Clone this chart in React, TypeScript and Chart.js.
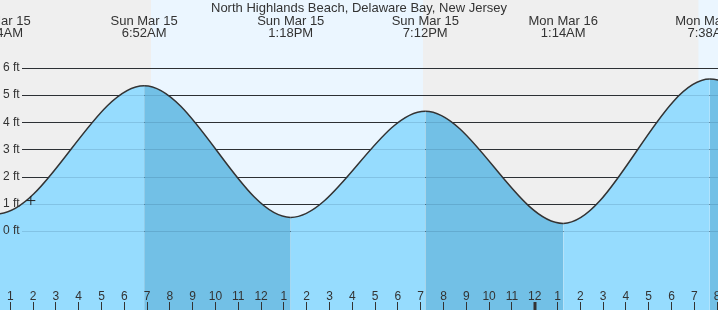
import React, { useEffect, useRef } from "react";
import { Chart, registerables } from "chart.js";

Chart.register(...registerables);

// ---- data (hours measured from Sun Mar 15 00:00) ----
const tideTimes = [-5.8, 0.42, 6.87, 13.3, 19.2, 25.25, 31.68, 38.0];
const tideHeights = [4.5, 0.63, 5.35, 0.5, 4.41, 0.28, 5.59, 0.6];

const extremeTimes = [0.42, 6.87, 13.3, 19.2, 25.25, 31.68];
const extremeDayLabels = ["Sun Mar 15", "Sun Mar 15", "Sun Mar 15", "Sun Mar 15", "Mon Mar 16", "Mon Mar 16"];
const extremeTimeLabels = ["12:44AM", "6:52AM", "1:18PM", "7:12PM", "1:14AM", "7:38AM"];

const daylightStarts = [7.17, 31.18];
const daylightEnds = [19.1, 43.1];

const feetTicks = [0, 1, 2, 3, 4, 5, 6];
const feetLabels = ["0 ft", "1 ft", "2 ft", "3 ft", "4 ft", "5 ft", "6 ft"];

const hourTicks = [
  1, 2, 3, 4, 5, 6, 7, 8, 9, 10, 11, 12, 13, 14, 15, 16, 17, 18, 19, 20, 21, 22, 23, 24,
  25, 26, 27, 28, 29, 30, 31, 32,
];
const hourLabels = [
  "1", "2", "3", "4", "5", "6", "7", "8", "9", "10", "11", "12",
  "1", "2", "3", "4", "5", "6", "7", "8", "9", "10", "11", "12",
  "1", "2", "3", "4", "5", "6", "7", "8",
];
const midnightHours = [24];

const nowTime = [1.9];
const nowHeight = [1.12];

const title = "North Highlands Beach, Delaware Bay, New Jersey";

// ---- styles ----
const NIGHT = "#efefef";
const DAY = "#ebf6ff";
const WATER_RISE = "#96dcfe";
const WATER_FALL = "#72c0e6";
const INK = "#333333";
const FONT = "Liberation Sans, Arial, sans-serif";

const decorPlugin = {
  id: "tideDecor",
  beforeDatasetsDraw(chart: any) {
    const { ctx, width, height } = chart;
    const x = chart.scales.x;
    const y = chart.scales.y;
    ctx.save();
    ctx.fillStyle = NIGHT;
    ctx.fillRect(0, 0, width, height);
    ctx.fillStyle = DAY;
    daylightStarts.forEach((s, i) => {
      const x0 = x.getPixelForValue(s);
      const x1 = x.getPixelForValue(daylightEnds[i]);
      ctx.fillRect(x0, 0, x1 - x0, height);
    });
    // grid lines
    ctx.strokeStyle = INK;
    ctx.lineWidth = 1;
    feetTicks.forEach((v) => {
      const py = Math.round(y.getPixelForValue(v)) + 0.5;
      ctx.beginPath();
      ctx.moveTo(22, py);
      ctx.lineTo(width, py);
      ctx.stroke();
    });
    // title
    ctx.fillStyle = INK;
    ctx.font = `13px ${FONT}`;
    ctx.textAlign = "center";
    ctx.textBaseline = "alphabetic";
    ctx.fillText(title, width / 2, 12);
    // extreme labels
    extremeTimes.forEach((t, i) => {
      const px = x.getPixelForValue(t);
      ctx.fillText(extremeDayLabels[i], px, 24.5);
      ctx.fillText(extremeTimeLabels[i], px, 36.5);
    });
    ctx.restore();
  },
  afterDatasetsDraw(chart: any) {
    const { ctx, width } = chart;
    const x = chart.scales.x;
    const y = chart.scales.y;
    ctx.save();
    // faint lines over water
    ctx.strokeStyle = "rgba(0,30,60,0.13)";
    ctx.lineWidth = 1;
    feetTicks.forEach((v) => {
      const py = Math.round(y.getPixelForValue(v)) + 0.5;
      ctx.beginPath();
      ctx.moveTo(22, py);
      ctx.lineTo(width, py);
      ctx.stroke();
    });
    // y labels
    ctx.fillStyle = INK;
    ctx.font = `12px ${FONT}`;
    ctx.textAlign = "left";
    ctx.textBaseline = "middle";
    feetTicks.forEach((v, i) => {
      ctx.fillText(feetLabels[i], 3, y.getPixelForValue(v));
    });
    // hour ticks
    ctx.textAlign = "center";
    ctx.textBaseline = "alphabetic";
    hourTicks.forEach((h, i) => {
      const px = x.getPixelForValue(h);
      ctx.fillText(hourLabels[i], px, 300);
      if (midnightHours.includes(h)) {
        ctx.fillRect(Math.round(px) - 1.5, 302, 3, 8);
      } else {
        ctx.fillRect(Math.floor(px), 302, 1, 8);
      }
    });
    ctx.restore();
  },
};

export default function App() {
  const ref = useRef<HTMLCanvasElement | null>(null);
  useEffect(() => {
    document.body.style.margin = "0";
    if (!ref.current) return;
    const tidePoints = tideTimes.map((t, i) => ({ x: t, y: tideHeights[i] }));
    const nowPoints = nowTime.map((t, i) => ({ x: t, y: nowHeight[i] }));
    const chart = new Chart(ref.current, {
      type: "line",
      data: {
        datasets: [
          {
            data: nowPoints,
            showLine: false,
            pointStyle: "cross",
            pointRadius: 4.5,
            pointBorderWidth: 1,
            pointBorderColor: "#222",
            borderColor: "#222",
            order: 0,
          } as any,
          {
            data: tidePoints,
            fill: "start",
            backgroundColor: WATER_RISE,
            borderColor: INK,
            borderWidth: 1.5,
            pointRadius: 0,
            cubicInterpolationMode: "monotone",
            segment: {
              backgroundColor: (c: any) => (c.p1.parsed.y < c.p0.parsed.y ? WATER_FALL : WATER_RISE),
            },
            order: 1,
          } as any,
        ],
      },
      options: {
        animation: false,
        responsive: false,
        devicePixelRatio: 1,
        layout: { padding: 0, autoPadding: false },
        events: [],
        scales: {
          x: { type: "linear", min: 0.5482, max: 32.039, display: false },
          y: { type: "linear", min: -2.908, max: 8.502, display: false },
        },
        plugins: {
          legend: { display: false },
          tooltip: { enabled: false },
          title: { display: false },
        },
      },
      plugins: [decorPlugin],
    });
    return () => chart.destroy();
  }, []);
  return <canvas ref={ref} width={718} height={310} style={{ display: "block" }} />;
}
